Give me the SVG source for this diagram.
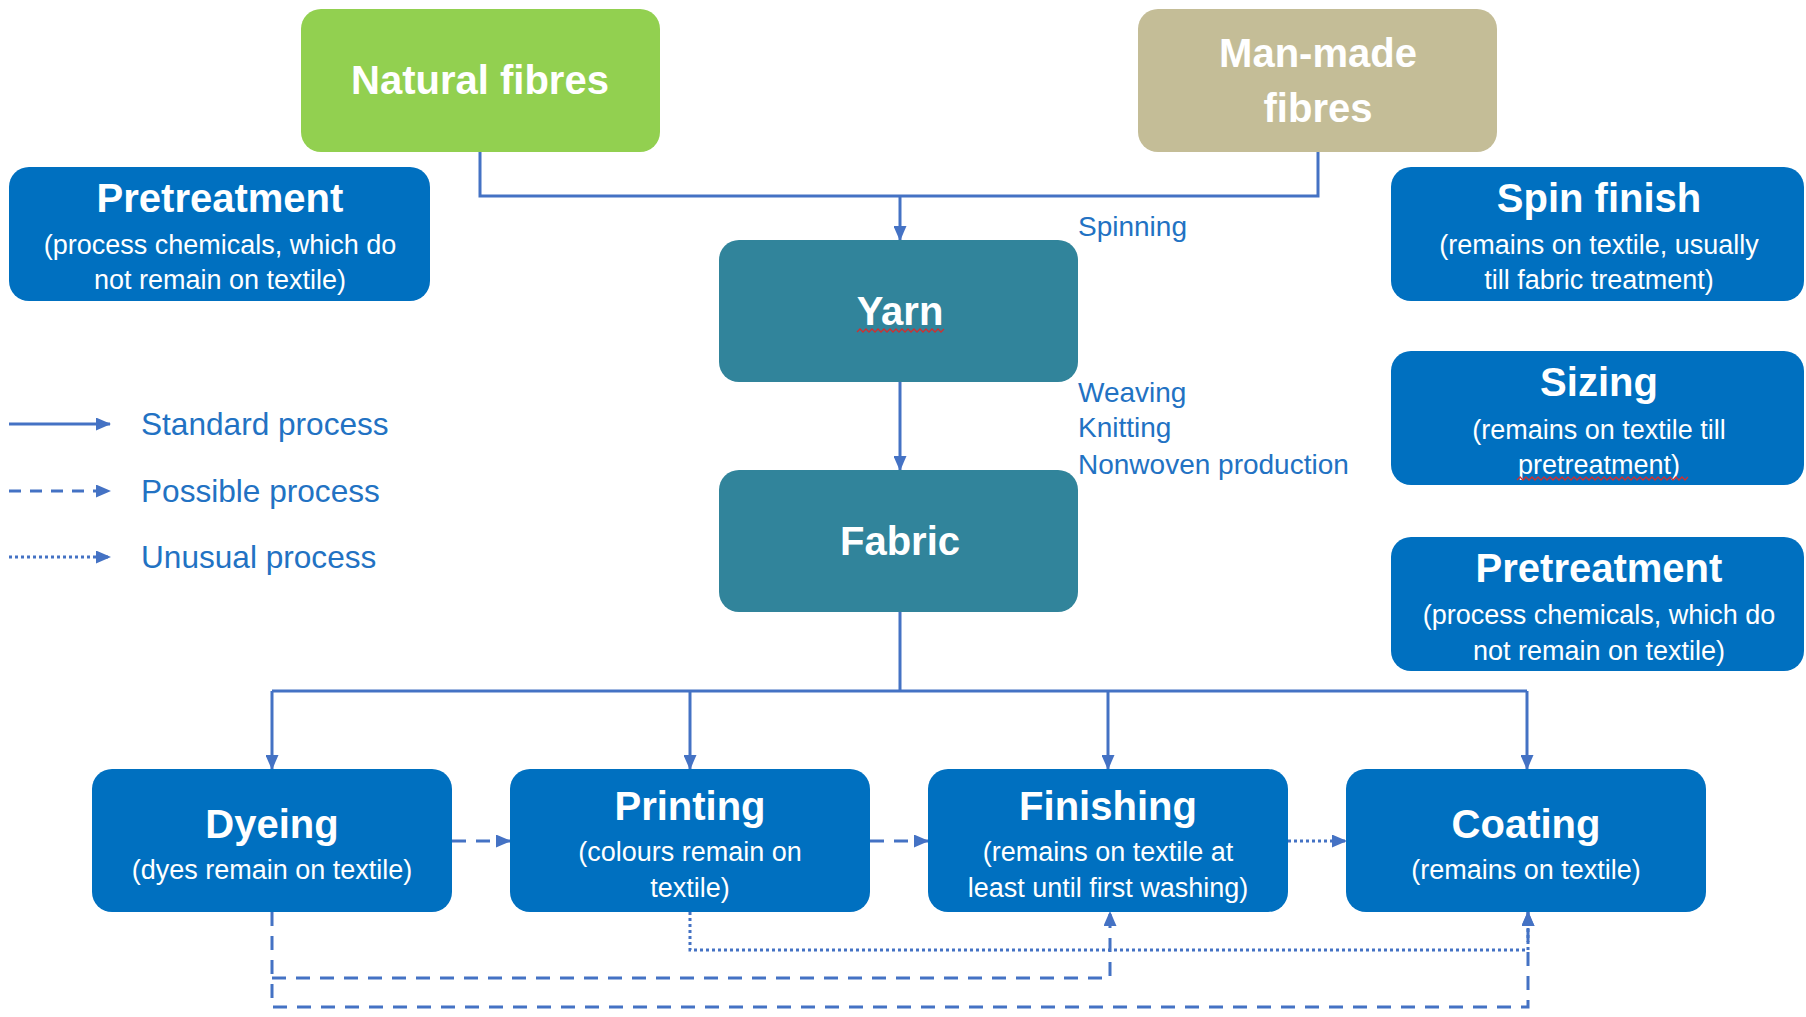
<svg xmlns="http://www.w3.org/2000/svg" width="1806" height="1017" viewBox="0 0 1806 1017">
<style>
.box{fill:#0070C0}
.teal{fill:#31849B}
.t{font-family:"Liberation Sans",Arial,sans-serif;fill:#fff;text-anchor:middle;dominant-baseline:central}
.title{font-size:40px;font-weight:bold}
.sub{font-size:27px}
.lbl{font-family:"Liberation Sans",Arial,sans-serif;fill:#2272C3;font-size:28px;dominant-baseline:central}
.leg{font-size:31.6px}
.c{fill:none;stroke:#4472C4;stroke-width:3}
.dash{stroke-dasharray:14 10}
.dot{stroke-dasharray:3 3}
.sq{fill:none;stroke:#D03030;stroke-width:1.3}
</style>
<defs>
<marker id="ah" markerUnits="userSpaceOnUse" markerWidth="15" markerHeight="13" refX="14" refY="6.5" orient="auto">
<path d="M0,0 L15,6.5 L0,13 z" fill="#4472C4"/>
</marker>
</defs>
<rect width="1806" height="1017" fill="#fff"/>

<g id="connectors">
<path class="c" d="M480,152 V196 H1318 V152"/>
<path class="c" d="M900,196 V240" marker-end="url(#ah)"/>
<path class="c" d="M900,382 V470" marker-end="url(#ah)"/>
<path class="c" d="M900,612 V691 M272,691 H1527"/>
<path class="c" d="M272,691 V769" marker-end="url(#ah)"/>
<path class="c" d="M690,691 V769" marker-end="url(#ah)"/>
<path class="c" d="M1108,691 V769" marker-end="url(#ah)"/>
<path class="c" d="M1527,691 V769" marker-end="url(#ah)"/>
<path class="c dash" d="M452,841 H510" marker-end="url(#ah)"/>
<path class="c dash" d="M870,841 H928" marker-end="url(#ah)"/>
<path class="c dot" d="M1288,841 H1346" marker-end="url(#ah)"/>
<path class="c dash" d="M272,912 V1007 H1528 V912" marker-end="url(#ah)"/>
<path class="c dash" d="M272,978 H1110 V912" marker-end="url(#ah)"/>
<path class="c dot" d="M690,912 V950 H1528 V912" marker-end="url(#ah)"/>
</g>

<g id="legend">
<path class="c" d="M9,424 H110" marker-end="url(#ah)"/>
<path class="c" d="M9,491 H110" style="stroke-dasharray:12 9" marker-end="url(#ah)"/>
<path class="c dot" d="M9,557 H110" marker-end="url(#ah)"/>
<text class="lbl leg" x="141" y="424">Standard process</text>
<text class="lbl leg" x="141" y="491">Possible process</text>
<text class="lbl leg" x="141" y="557">Unusual process</text>
</g>

<g id="labels">
<text class="lbl" x="1078" y="226">Spinning</text>
<text class="lbl" x="1078" y="392">Weaving</text>
<text class="lbl" x="1078" y="427">Knitting</text>
<text class="lbl" x="1078" y="464">Nonwoven production</text>
</g>

<g id="natural">
<rect x="301" y="9" width="359" height="143" rx="20" fill="#92D050"/>
<text class="t title" x="480" y="80">Natural fibres</text>
</g>

<g id="manmade">
<rect x="1138" y="9" width="359" height="143" rx="20" fill="#C4BD97"/>
<text class="t title" x="1318" y="53">Man-made</text>
<text class="t title" x="1318" y="108">fibres</text>
</g>

<g id="pretreatment-left">
<rect class="box" x="9" y="167" width="421" height="134" rx="20"/>
<text class="t title" x="220" y="198">Pretreatment</text>
<text class="t sub" x="220" y="245">(process chemicals, which do</text>
<text class="t sub" x="220" y="280">not remain on textile)</text>
</g>

<g id="spinfinish">
<rect class="box" x="1391" y="167" width="413" height="134" rx="20"/>
<text class="t title" x="1599" y="198">Spin finish</text>
<text class="t sub" x="1599" y="245">(remains on textile, usually</text>
<text class="t sub" x="1599" y="280">till fabric treatment)</text>
</g>

<g id="sizing">
<rect class="box" x="1391" y="351" width="413" height="134" rx="20"/>
<text class="t title" x="1599" y="382">Sizing</text>
<text class="t sub" x="1599" y="430">(remains on textile till</text>
<text class="t sub" x="1599" y="465">pretreatment)</text>
<path class="sq" d="M1517,480 l3,-3 l3,3 l3,-3 l3,3 l3,-3 l3,3 l3,-3 l3,3 l3,-3 l3,3 l3,-3 l3,3 l3,-3 l3,3 l3,-3 l3,3 l3,-3 l3,3 l3,-3 l3,3 l3,-3 l3,3 l3,-3 l3,3 l3,-3 l3,3 l3,-3 l3,3 l3,-3 l3,3 l3,-3 l3,3 l3,-3 l3,3 l3,-3 l3,3 l3,-3 l3,3 l3,-3 l3,3 l3,-3 l3,3 l3,-3 l3,3 l3,-3 l3,3 l3,-3 l3,3 l3,-3 l3,3 l3,-3 l3,3 l3,-3 l3,3 l3,-3 l3,3 l3,-3"/>
</g>

<g id="pretreatment-right">
<rect class="box" x="1391" y="537" width="413" height="134" rx="20"/>
<text class="t title" x="1599" y="568">Pretreatment</text>
<text class="t sub" x="1599" y="615">(process chemicals, which do</text>
<text class="t sub" x="1599" y="651">not remain on textile)</text>
</g>

<g id="yarn">
<rect class="teal" x="719" y="240" width="359" height="142" rx="20"/>
<text class="t title" x="900" y="311">Yarn</text>
<path class="sq" d="M857,332 l3,-3 l3,3 l3,-3 l3,3 l3,-3 l3,3 l3,-3 l3,3 l3,-3 l3,3 l3,-3 l3,3 l3,-3 l3,3 l3,-3 l3,3 l3,-3 l3,3 l3,-3 l3,3 l3,-3 l3,3 l3,-3 l3,3 l3,-3 l3,3 l3,-3 l3,3 l3,-3"/>
</g>

<g id="fabric">
<rect class="teal" x="719" y="470" width="359" height="142" rx="20"/>
<text class="t title" x="900" y="541">Fabric</text>
</g>

<g id="dyeing">
<rect class="box" x="92" y="769" width="360" height="143" rx="20"/>
<text class="t title" x="272" y="824">Dyeing</text>
<text class="t sub" x="272" y="870">(dyes remain on textile)</text>
</g>

<g id="printing">
<rect class="box" x="510" y="769" width="360" height="143" rx="20"/>
<text class="t title" x="690" y="806">Printing</text>
<text class="t sub" x="690" y="852">(colours remain on</text>
<text class="t sub" x="690" y="888">textile)</text>
</g>

<g id="finishing">
<rect class="box" x="928" y="769" width="360" height="143" rx="20"/>
<text class="t title" x="1108" y="806">Finishing</text>
<text class="t sub" x="1108" y="852">(remains on textile at</text>
<text class="t sub" x="1108" y="888">least until first washing)</text>
</g>

<g id="coating">
<rect class="box" x="1346" y="769" width="360" height="143" rx="20"/>
<text class="t title" x="1526" y="824">Coating</text>
<text class="t sub" x="1526" y="870">(remains on textile)</text>
</g>
</svg>
